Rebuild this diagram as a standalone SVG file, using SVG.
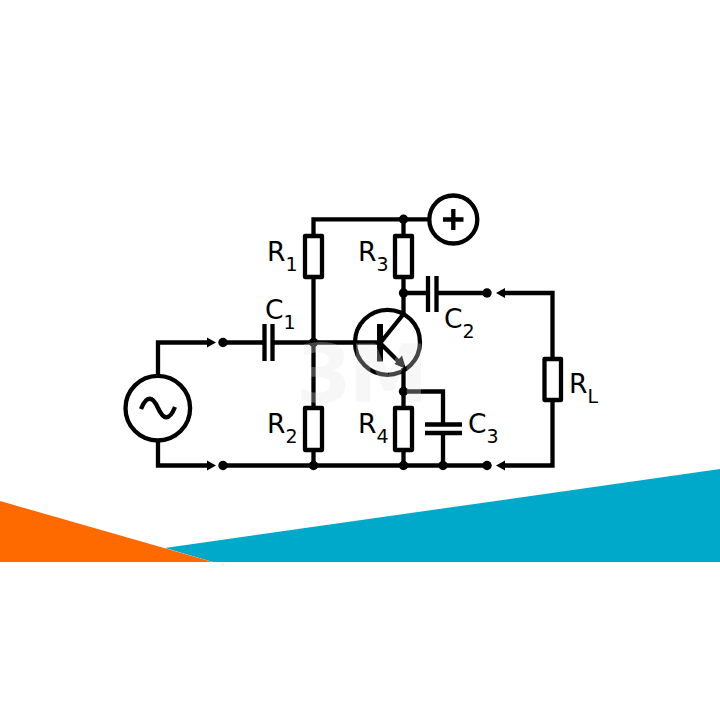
<svg xmlns="http://www.w3.org/2000/svg" width="720" height="720" viewBox="0 0 720 720">
<style>
.w{fill:none;stroke:#000;stroke-width:4.3;stroke-linejoin:miter}
.b{fill:#fff;stroke:#000;stroke-width:4.3;stroke-linejoin:round}
.p{fill:none;stroke:#000;stroke-width:4.3}
.d{fill:#000}
.a{fill:#000}
text{font-family:"DejaVu Sans",sans-serif;fill:#000}
.l{font-size:26.5px}
.s{font-size:19px}
</style>
<rect width="720" height="720" fill="#fff"/>
<g id="background">
<polygon points="165,548 720,469 720,562 213,562" fill="#00a9c9"/>
<polygon points="0,501 213,562 0,562" fill="#ff6a00"/>
</g>
<g id="connectors">
<path class="w" d="M158,376V342.5H210"/>
<path class="w" d="M158,440V465.5H210"/>
<path class="w" d="M223,342.5H265M272,342.5H379"/>
<path class="w" d="M223,465.5H487"/>
<path class="w" d="M313.5,342.5V277M313.5,236V219.3H430"/>
<path class="w" d="M313.5,342.5V408M313.5,450V465.5"/>
<path class="w" d="M403.5,219.3V236M403.5,277V314"/>
<path class="w" d="M403.5,293H428M437,293H487"/>
<path class="w" d="M403.5,368V408M403.5,450V465.5"/>
<path class="w" d="M403.5,391.5H443V424M443,433V465.5"/>
<path class="w" d="M500,293H552.5V358M552.5,400V465.5H500"/>
<polygon class="a" points="216,342.5 207,337.5 207,347.5"/>
<polygon class="a" points="216,465.5 207,460.5 207,470.5"/>
<polygon class="a" points="496,293 505,288 505,298"/>
<polygon class="a" points="496,465.5 505,460.5 505,470.5"/>
</g>
<g id="junctions">
<circle class="d" cx="223" cy="342.5" r="4.7"/>
<circle class="d" cx="223" cy="465.5" r="4.7"/>
<circle class="d" cx="313.5" cy="342.5" r="4.7"/>
<circle class="d" cx="313.5" cy="465.5" r="4.7"/>
<circle class="d" cx="403.5" cy="219.3" r="4.7"/>
<circle class="d" cx="403.5" cy="293" r="4.7"/>
<circle class="d" cx="403.5" cy="391.5" r="4.7"/>
<circle class="d" cx="403.5" cy="465.5" r="4.7"/>
<circle class="d" cx="443" cy="465.5" r="4.7"/>
<circle class="d" cx="487" cy="293" r="4.7"/>
<circle class="d" cx="487" cy="465.5" r="4.7"/>
</g>
<g id="source">
<circle class="b" cx="157.8" cy="408.2" r="32.3"/>
<path class="w" d="M141,409C147,394 153,397 158,408S169,422 175,407"/>
</g>
<g id="supply">
<circle class="b" cx="453.3" cy="219.5" r="24"/>
<path class="w" d="M443,219.5H463.5M453.3,209V230"/>
</g>
<g id="R1"><rect class="b" x="305" y="236" width="17" height="41"/><text class="l" x="267" y="261">R<tspan class="s" dy="10">1</tspan></text></g>
<g id="R2"><rect class="b" x="305" y="408" width="17" height="42"/><text class="l" x="267" y="433">R<tspan class="s" dy="10">2</tspan></text></g>
<g id="R3"><rect class="b" x="395" y="236" width="17" height="41"/><text class="l" x="358" y="261">R<tspan class="s" dy="10">3</tspan></text></g>
<g id="R4"><rect class="b" x="395" y="408" width="17" height="42"/><text class="l" x="358" y="433">R<tspan class="s" dy="10">4</tspan></text></g>
<g id="RL"><rect class="b" x="544.5" y="359" width="16.5" height="41"/><text class="l" x="569" y="393">R<tspan class="s" dy="10">L</tspan></text></g>
<g id="C1"><path class="p" d="M264.5,324V361M272.5,324V361"/><text class="l" x="265" y="319">C<tspan class="s" dy="10">1</tspan></text></g>
<g id="C2"><path class="p" d="M428,276V312M436.5,276V312"/><text class="l" x="444" y="328">C<tspan class="s" dy="10">2</tspan></text></g>
<g id="C3"><path class="p" d="M425,424.5H462M425,433H462"/><text class="l" x="468" y="433">C<tspan class="s" dy="10">3</tspan></text></g>
<g id="transistor">
<circle class="w" cx="387.5" cy="342.3" r="32.5"/>
<path d="M380,324V361.5" fill="none" stroke="#000" stroke-width="6"/>
<path class="w" d="M381,342L403.5,314"/>
<path class="w" d="M381,344L400,363"/>
<polygon class="a" points="406,369 394.5,364 402,355.5"/>
</g>
<text id="watermark" x="296" y="402" font-size="80" font-weight="bold" letter-spacing="-3" style="font-family:'DejaVu Sans',sans-serif;fill:#e3e3e3;fill-opacity:.3">3M</text>
</svg>
